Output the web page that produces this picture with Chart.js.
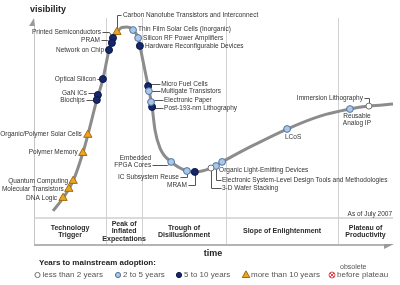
<!DOCTYPE html>
<html>
<head>
<meta charset="utf-8">
<script src="https://cdn.jsdelivr.net/npm/chart.js@4/dist/chart.umd.min.js"></script>
<style>
html, body { margin: 0; padding: 0; background: #fff; }
</style>
</head>
<body>
<canvas id="hype" width="400" height="285"></canvas>
<script>
// hype curve (time %, visibility %)
const curveTime = [5.3, 8.1, 10.9, 13.6, 15.0, 17.5, 19.2, 20.9, 22.0, 23.1, 24.5, 25.9, 27.6, 29.0, 29.5, 31.8, 32.9, 33.7, 35.1, 38.2, 42.6, 44.8, 49.3, 52.4, 60.2, 70.5, 79.7, 88.0, 93.3, 100];
const curveVisibility = [15.0, 20.7, 28.2, 40.5, 48.5, 63.9, 73.1, 85.9, 91.2, 93.8, 95.8, 96.0, 94.7, 91.2, 87.7, 70.0, 60.8, 50.7, 42.7, 36.6, 32.6, 32.2, 33.9, 36.6, 43.2, 51.1, 56.8, 59.9, 61.2, 62.1];

// technologies on the curve
const techNames = [
  'Carbon Nanotube Transistors and Interconnect', 'Organic/Polymer Solar Cells', 'Polymer Memory',
  'Quantum Computing', 'Molecular Transistors', 'DNA Logic',
  'Printed Semiconductors', 'PRAM', 'Network on Chip', 'Optical Silicon', 'GaN ICs', 'Biochips',
  'Hardware Reconfigurable Devices', 'Micro Fuel Cells', 'Post-193-nm Lithography', 'MRAM',
  'Thin Film Solar Cells (Inorganic)', 'Silicon RF Power Amplifiers', 'Multigate Transistors',
  'Electronic Paper', 'Embedded FPGA Cores', 'IC Subsystem Reuse',
  'Electronic System-Level Design Tools and Methodologies', 'Organic Light-Emitting Devices',
  'LCoS', 'Reusable Analog IP',
  '3-D Wafer Stacking', 'Immersion Lithography'
];
const techTime = [23.1, 15.0, 13.6, 10.9, 9.7, 8.1, 22.0, 21.7, 20.9, 19.2, 17.8, 17.5, 29.5, 31.8, 32.9, 44.8, 27.6, 29.0, 32.0, 32.6, 38.2, 42.6, 50.7, 52.4, 70.5, 88.0, 49.3, 93.3];
const techVisibility = [93.8, 48.5, 40.5, 28.2, 24.7, 20.7, 91.2, 89.0, 85.9, 73.1, 66.1, 63.9, 87.7, 70.0, 60.8, 32.2, 94.7, 91.2, 67.8, 63.0, 36.6, 32.6, 34.8, 36.6, 51.1, 59.9, 33.9, 61.2];
// 0: less than 2 years, 1: 2 to 5, 2: 5 to 10, 3: more than 10
const techYears = [3, 3, 3, 3, 3, 3, 2, 2, 2, 2, 2, 2, 2, 2, 2, 2, 1, 1, 1, 1, 1, 1, 1, 1, 1, 1, 0, 0];

const yearLabels = ['less than 2 years', '2 to 5 years', '5 to 10 years', 'more than 10 years'];
const phaseNames = [['Technology', 'Trigger'], ['Peak of', 'Inflated', 'Expectations'], ['Trough of', 'Disillusionment'], ['Slope of Enlightenment'], ['Plateau of', 'Productivity']];
const phaseEnds = [20.1, 30.1, 53.5, 84.7, 100];

// marker looks per adoption class
const yearStyles = [
  { style: 'circle', radius: 3, fill: '#ffffff', line: '#707070' },
  { style: 'circle', radius: 3.4, fill: '#a9c8e8', line: '#50709e' },
  { style: 'circle', radius: 3.5, fill: '#13276a', line: '#0b1848' },
  { style: 'triangle', radius: 4.8, fill: '#eba424', line: '#a66c08' }
];

// label placement relative to its marker: dx, dy, align, leader path, line breaks
const labelLayout = {
  'Carbon Nanotube Transistors and Interconnect': [6, -17, 'l', [[4, -17], [0, -17], [0, 0]]],
  'Organic/Polymer Solar Cells': [-6, -1, 'r'],
  'Polymer Memory': [-5, -1, 'r'],
  'Quantum Computing': [-5, 0, 'r'],
  'Molecular Transistors': [-5, 0, 'r'],
  'DNA Logic': [-6, 0, 'r'],
  'Printed Semiconductors': [-12, -6, 'r', [[-11, -6], [-4, -6], [0, 0]]],
  'PRAM': [-12, -3, 'r', [[-11, -3], [-5, -3], [0, 0]]],
  'Network on Chip': [-5, 0, 'r'],
  'Optical Silicon': [-7, 0, 'r', [[-6, 0], [0, 0]]],
  'GaN ICs': [-11, -2, 'r', [[-10, -2], [0, -2]]],
  'Biochips': [-12, 0, 'r', [[-11, 0], [0, 0]]],
  'Hardware Reconfigurable Devices': [5, 0, 'l'],
  'Micro Fuel Cells': [13, -2, 'l', [[0, -2], [12, -2]]],
  'Post-193-nm Lithography': [12, 1, 'l', [[0, 1], [11, 1]]],
  'MRAM': [-8, 13, 'r', [[-7, 13], [0, 13], [0, 0]]],
  'Thin Film Solar Cells (Inorganic)': [5, -1, 'l'],
  'Silicon RF Power Amplifiers': [5, 0, 'l'],
  'Multigate Transistors': [12, 0, 'l', [[0, 0], [11, 0]]],
  'Electronic Paper': [13, -2, 'l', [[0, -2], [12, -2]]],
  'Embedded FPGA Cores': [-20, -0.5, 'r', [[-19, 3], [-4, 3], [0, 0]], ['Embedded', 'FPGA Cores']],
  'IC Subsystem Reuse': [-8, 6, 'r', [[-7, 6], [0, 6], [0, 0]]],
  'Electronic System-Level Design Tools and Methodologies': [6, 14, 'l', [[0, 0], [0, 14], [5, 14]]],
  'Organic Light-Emitting Devices': [-3, 8, 'l'],
  'LCoS': [6, 8, 'c'],
  'Reusable Analog IP': [7, 11, 'c', null, ['Reusable', 'Analog IP']],
  '3-D Wafer Stacking': [11, 20, 'l', [[0, 0], [0, 20], [10, 20]]],
  'Immersion Lithography': [-6, -8, 'r', [[-5, -8], [0, -8], [0, 0]]]
};

const FONT = '"Liberation Sans", Arial, sans-serif';
const alignMap = { l: 'left', r: 'right', c: 'center' };

function crisp(v) { return Math.round(v) + 0.5; }

function drawMarker(ctx, kind, x, y, r) {
  const s = yearStyles[kind];
  ctx.save();
  ctx.fillStyle = s.fill;
  ctx.strokeStyle = s.line;
  ctx.lineWidth = 1;
  ctx.beginPath();
  if (s.style === 'triangle') {
    ctx.moveTo(x, y - r);
    ctx.lineTo(x + r * 0.9, y + r * 0.6);
    ctx.lineTo(x - r * 0.9, y + r * 0.6);
    ctx.closePath();
  } else {
    ctx.arc(x, y, r, 0, Math.PI * 2);
  }
  ctx.fill();
  ctx.stroke();
  ctx.restore();
}

// frame, phase band and leader lines go under the curve
const framePlugin = {
  id: 'hypeFrame',
  beforeDatasetsDraw(chart) {
    const { ctx, chartArea: a, scales: { x, y } } = chart;
    const bandTop = a.bottom - 27;
    ctx.save();

    // phase dividers
    ctx.strokeStyle = '#d2d2d2';
    ctx.lineWidth = 1;
    phaseEnds.slice(0, -1).forEach(t => {
      const px = crisp(x.getPixelForValue(t));
      ctx.beginPath();
      ctx.moveTo(px, a.top);
      ctx.lineTo(px, a.bottom);
      ctx.stroke();
    });

    // left axis with arrow head
    ctx.strokeStyle = '#c4c4c4';
    ctx.beginPath();
    ctx.moveTo(a.left + 0.5, a.top + 7);
    ctx.lineTo(a.left + 0.5, a.bottom);
    ctx.stroke();
    ctx.fillStyle = '#9a9a9a';
    ctx.beginPath();
    ctx.moveTo(a.left, a.top);
    ctx.lineTo(a.left + 1, a.top + 8);
    ctx.lineTo(a.left - 5, a.top + 8);
    ctx.closePath();
    ctx.fill();

    // band lines
    ctx.strokeStyle = '#cfcfcf';
    ctx.lineWidth = 1.5;
    ctx.beginPath();
    ctx.moveTo(a.left, bandTop);
    ctx.lineTo(a.right, bandTop);
    ctx.stroke();
    ctx.strokeStyle = '#b4b4b4';
    ctx.lineWidth = 2;
    ctx.beginPath();
    ctx.moveTo(a.left, a.bottom);
    ctx.lineTo(a.right - 8, a.bottom);
    ctx.stroke();
    ctx.fillStyle = '#9a9a9a';
    ctx.beginPath();
    ctx.moveTo(a.right - 9, a.bottom - 1);
    ctx.lineTo(a.right + 1, a.bottom - 1);
    ctx.lineTo(a.right - 9, a.bottom + 4);
    ctx.closePath();
    ctx.fill();

    // leaders
    ctx.strokeStyle = '#555';
    ctx.lineWidth = 1;
    techNames.forEach((name, i) => {
      const leader = labelLayout[name][3];
      if (!leader) return;
      const px = x.getPixelForValue(techTime[i]);
      const py = y.getPixelForValue(techVisibility[i]);
      ctx.beginPath();
      leader.forEach(([lx, ly], j) => {
        const X = crisp(px + lx), Y = crisp(py + ly);
        if (j) ctx.lineTo(X, Y); else ctx.moveTo(X, Y);
      });
      ctx.stroke();
    });
    ctx.restore();
  },
  afterDatasetsDraw(chart) {
    const { ctx, chartArea: a, scales: { x, y } } = chart;
    ctx.save();
    ctx.textBaseline = 'middle';

    // technology labels
    ctx.font = '6.5px ' + FONT;
    ctx.fillStyle = '#333';
    techNames.forEach((name, i) => {
      const [dx, dy, align, , lines] = labelLayout[name];
      const px = x.getPixelForValue(techTime[i]);
      const py = y.getPixelForValue(techVisibility[i]);
      const rows = lines || [name];
      ctx.textAlign = alignMap[align];
      rows.forEach((row, k) => {
        ctx.fillText(row, px + dx, py + dy + (k - (rows.length - 1) / 2) * 7);
      });
    });

    // phase names
    const bandMid = a.bottom - 13.5;
    ctx.font = 'bold 7px ' + FONT;
    ctx.fillStyle = '#2a2a2a';
    ctx.textAlign = 'center';
    let start = 0;
    phaseNames.forEach((rows, i) => {
      const cx = (x.getPixelForValue(start) + x.getPixelForValue(phaseEnds[i])) / 2;
      rows.forEach((row, k) => {
        ctx.fillText(row, cx, bandMid + (k - (rows.length - 1) / 2) * 7.7);
      });
      start = phaseEnds[i];
    });

    ctx.font = '6.5px ' + FONT;
    ctx.fillStyle = '#333';
    ctx.textAlign = 'right';
    ctx.fillText('As of July 2007', a.right - 1, a.bottom - 31);

    // axis titles
    ctx.font = 'bold 9px ' + FONT;
    ctx.fillStyle = '#222';
    ctx.textAlign = 'left';
    ctx.fillText('visibility', a.left - 4, 10);
    ctx.textAlign = 'center';
    ctx.fillText('time', 213, a.bottom + 9);

    // legend
    ctx.font = 'bold 8px ' + FONT;
    ctx.textAlign = 'left';
    ctx.fillText('Years to mainstream adoption:', 39, 263);
    const legendX = [37.5, 118, 179, 246];
    const rowY = 275;
    ctx.font = '8px ' + FONT;
    yearLabels.forEach((label, k) => {
      drawMarker(ctx, k, legendX[k], rowY, k === 3 ? 4.2 : 2.6);
      ctx.fillStyle = '#555';
      ctx.fillText(label, legendX[k] + 5, rowY);
    });
    // obsolete
    ctx.strokeStyle = '#e0494f';
    ctx.lineWidth = 1;
    ctx.beginPath();
    ctx.arc(332, rowY, 3, 0, Math.PI * 2);
    ctx.stroke();
    ctx.beginPath();
    ctx.moveTo(330, rowY - 2); ctx.lineTo(334, rowY + 2);
    ctx.moveTo(334, rowY - 2); ctx.lineTo(330, rowY + 2);
    ctx.stroke();
    ctx.fillStyle = '#555';
    ctx.fillText('before plateau', 337, rowY);
    ctx.font = '7px ' + FONT;
    ctx.fillText('obsolete', 340, 267);
    ctx.restore();
  }
};

const curve = curveTime.map((t, i) => ({ x: t, y: curveVisibility[i] }));
const markerSets = yearStyles.map((s, k) => ({
  label: yearLabels[k],
  data: techTime.map((t, i) => ({ x: t, y: techVisibility[i], k: techYears[i] }))
    .filter(p => p.k === k),
  pointStyle: s.style,
  pointRadius: s.radius,
  pointBorderWidth: 1,
  backgroundColor: s.fill,
  borderColor: s.line,
  order: 0,
  clip: false
}));

new Chart(document.getElementById('hype'), {
  type: 'scatter',
  data: {
    datasets: [{
      label: 'hype',
      data: curve,
      showLine: true,
      borderColor: '#8c8c8c',
      borderWidth: 3,
      pointRadius: 0,
      cubicInterpolationMode: 'monotone',
      order: 10,
      clip: false
    }, ...markerSets]
  },
  options: {
    responsive: false,
    animation: false,
    devicePixelRatio: 1,
    layout: { padding: { left: 34, right: 7, top: 18, bottom: 40 } },
    scales: {
      x: { type: 'linear', min: 0, max: 100, display: false },
      y: { type: 'linear', min: 0, max: 100, display: false }
    },
    plugins: { legend: { display: false }, tooltip: { enabled: false } }
  },
  plugins: [framePlugin]
});
</script>
</body>
</html>
